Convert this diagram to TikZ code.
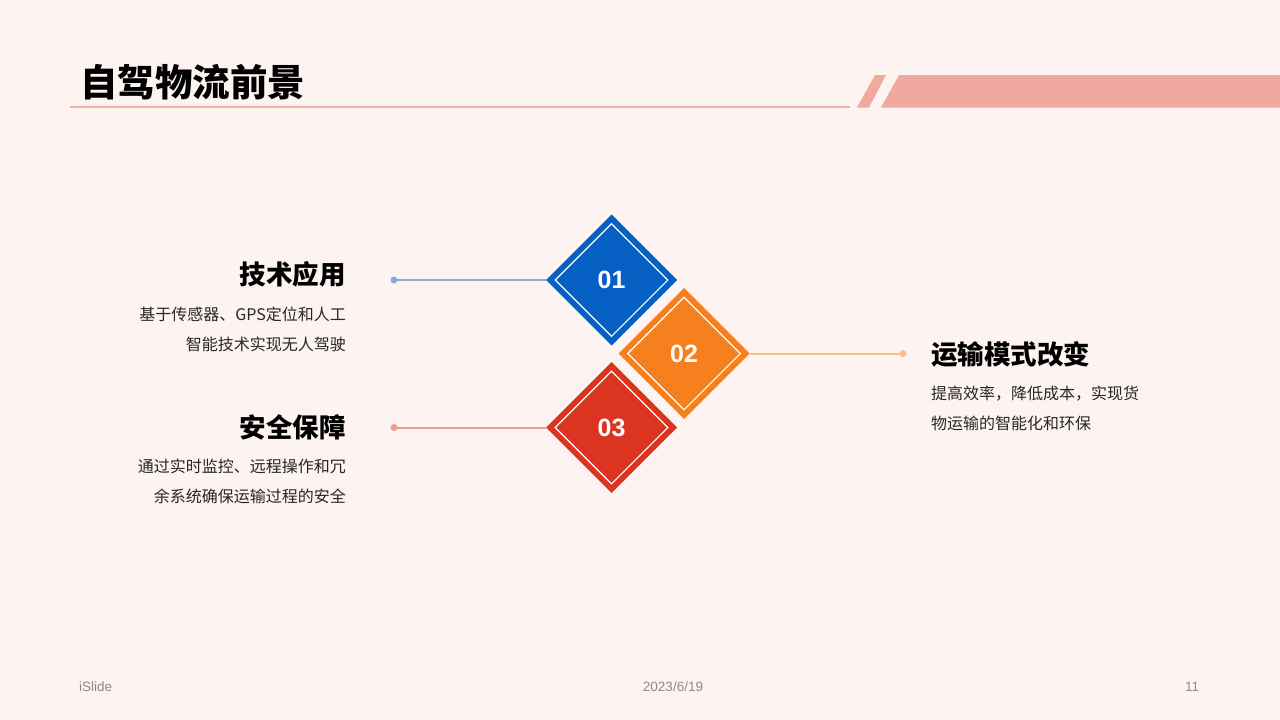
\documentclass[tikz,border=0pt]{standalone}
\usepackage{fontspec}
\setmainfont{Noto Sans CJK SC}
\newfontfamily\latinfont{Liberation Sans}
\usetikzlibrary{shapes.geometric}
\definecolor{bgc}{HTML}{FDF3F1}
\definecolor{bandc}{HTML}{EFA99F}
\definecolor{rulec}{HTML}{F2B3A7}
\definecolor{dblue}{HTML}{065FC3}
\definecolor{dorange}{HTML}{F7801E}
\definecolor{dred}{HTML}{DB3522}
\definecolor{lblue}{HTML}{86ACDD}
\definecolor{lorange}{HTML}{FBBE8E}
\definecolor{lred}{HTML}{EF9C90}
\definecolor{footc}{HTML}{8C8C8C}
\tikzset{
  dia/.style={diamond, aspect=1, minimum size=131pt, inner sep=0pt, outer sep=0pt, fill=#1,
    text=white, font=\latinfont\bfseries\fontsize{25}{28}\selectfont},
  diain/.style={diamond, aspect=1, minimum size=113pt, inner sep=0pt, draw=white, line width=1.1pt},
  dotn/.style={circle, fill=#1, minimum size=7pt, inner sep=0pt},
  conn/.style={draw=#1, line width=2pt},
  head/.style={inner sep=0pt, font=\bfseries\fontsize{26.5}{30}\selectfont},
  body/.style={inner sep=0pt, font=\fontsize{16}{30}\selectfont, text=black!85},
  foot/.style={inner sep=0pt, font=\latinfont\fontsize{13.5}{15}\selectfont, text=footc}
}
\begin{document}
\begin{tikzpicture}[x=1pt,y=-1pt]
\useasboundingbox (0,0) rectangle (1280,720);
\fill[bgc] (0,0) rectangle (1280,720);
% header
\node[anchor=west, inner sep=0pt, font=\bfseries\fontsize{37.5}{40}\selectfont] (title) at (80,82) {自驾物流前景};
\draw[rulec, line width=2pt] (70,107) -- (850,107);
\fill[bandc] (875,75) -- (886,75) -- (869,107.5) -- (857,107.5) -- cycle;
\fill[bandc] (899,75) -- (1280,75) -- (1280,107.5) -- (881,107.5) -- cycle;
% diamonds
\node[dia=dblue] (d1) at (611.5,280) {01};
\node[diain] (d1i) at (611.5,280) {};
\node[dia=dorange] (d2) at (684,353.5) {02};
\node[diain] (d2i) at (684,353.5) {};
\node[dia=dred] (d3) at (611.5,427.5) {03};
\node[diain] (d3i) at (611.5,427.5) {};
% connectors
\node[dotn=lblue] (p1) at (394,280) {};
\node[dotn=lorange] (p2) at (903,353.5) {};
\node[dotn=lred] (p3) at (394,427.5) {};
\draw[conn=lblue] (p1.center) -- (d1.west);
\draw[conn=lorange] (d2.east) -- (p2.center);
\draw[conn=lred] (p3.center) -- (d3.west);
% texts
\node[head, anchor=east] (h1) at (346,274) {技术应用};
\node[body, anchor=east, align=right] (b1) at (346,329) {基于传感器、GPS定位和人工\\智能技术实现无人驾驶};
\node[head, anchor=east] (h3) at (346,427) {安全保障};
\node[body, anchor=east, align=right] (b3) at (346,481.5) {通过实时监控、远程操作和冗\\余系统确保运输过程的安全};
\node[head, anchor=west] (h2) at (931,354) {运输模式改变};
\node[body, anchor=west, align=left] (b2) at (931,408) {提高效率，降低成本，实现货\\物运输的智能化和环保};
% footer
\node[foot, anchor=west] (f1) at (79,687) {iSlide};
\node[foot] (f2) at (673,687) {2023/6/19};
\node[foot] (f3) at (1192,687) {11};
\end{tikzpicture}
\end{document}
